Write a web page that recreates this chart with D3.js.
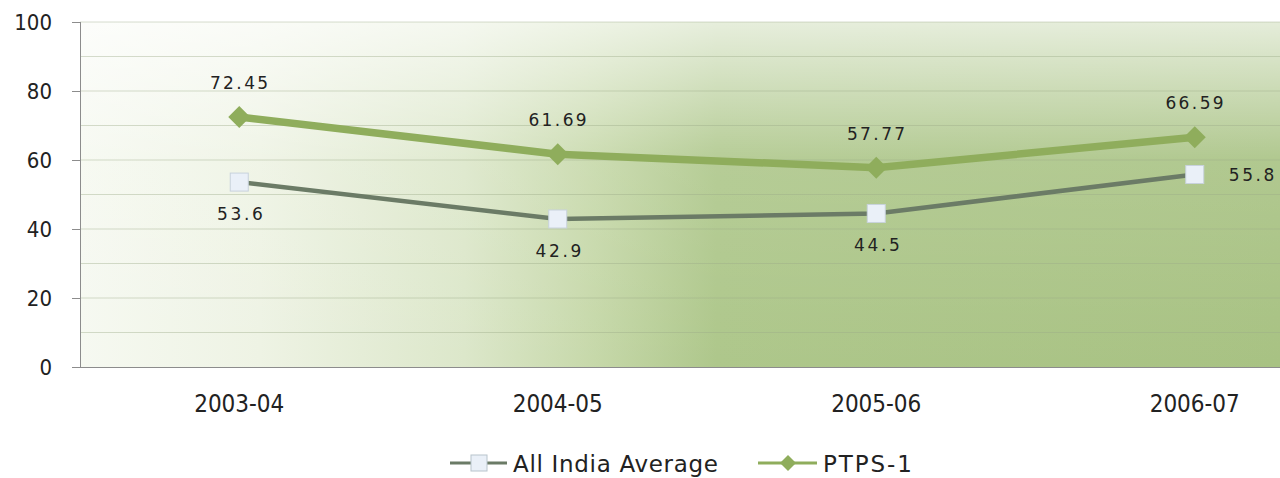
<!DOCTYPE html>
<html><head><meta charset="utf-8">
<script src="https://cdn.jsdelivr.net/npm/d3@7"></script>
<style>body{margin:0;background:#fff}svg{display:block}text{font-family:"DejaVu Sans",Verdana,sans-serif}</style>
</head><body><svg id="c" width="1280" height="478"></svg>
<script>
const categories = ["2003-04","2004-05","2005-06","2006-07"];
const allIndia = [53.6, 42.9, 44.5, 55.8];
const ptps = [72.45, 61.69, 57.77, 66.59];
const yTicks = [0,20,40,60,80,100];
const seriesNames = ["All India Average","PTPS-1"];

const COND = "'DejaVu Sans Condensed','DejaVu Sans',sans-serif";
const svg = d3.select("#c");
const x0 = 80, x1 = 1354, yTop = 22, yBot = 367;
const x = d3.scaleBand().domain(categories).range([x0, x1]);
const cx = d => x(d) + x.bandwidth()/2;
const y = d3.scaleLinear().domain([0,100]).range([yBot, yTop]);

const defs = svg.append("defs");
const gh = defs.append("linearGradient").attr("id","gh").attr("gradientUnits","userSpaceOnUse")
  .attr("x1",x0).attr("x2",1280).attr("y1",0).attr("y2",0);
[[0,"#f6f9f1"],[0.15,"#eef3e4"],[0.32,"#dce7ca"],[0.43,"#c6d8a9"],[0.53,"#aec78b"],[1,"#a8c283"]]
  .forEach(([o,c])=>gh.append("stop").attr("offset",o).attr("stop-color",c));
const gv = defs.append("linearGradient").attr("id","gv").attr("x1",0).attr("x2",0).attr("y1",0).attr("y2",1);
gv.append("stop").attr("offset",0).attr("stop-color","#fff").attr("stop-opacity",0.7);
gv.append("stop").attr("offset",0.4).attr("stop-color","#fff").attr("stop-opacity",0.1);
gv.append("stop").attr("offset",1).attr("stop-color","#fff").attr("stop-opacity",0);

svg.append("rect").attr("x",x0).attr("y",yTop).attr("width",1280-x0).attr("height",yBot-yTop).attr("fill","url(#gh)");
svg.append("rect").attr("x",x0).attr("y",yTop).attr("width",1280-x0).attr("height",yBot-yTop).attr("fill","url(#gv)");

// gridlines every 10
svg.append("g").selectAll("line").data(d3.range(10,101,10)).join("line")
  .attr("x1",x0).attr("x2",1280).attr("y1",d=>y(d)).attr("y2",d=>y(d))
  .attr("stroke","#9aaa86").attr("stroke-opacity",0.4).attr("stroke-width",1);

// y axis
const ya = svg.append("g").attr("transform",`translate(${x0},0)`)
  .call(d3.axisLeft(y).tickValues(yTicks).tickSize(8).tickPadding(20));
ya.select(".domain").attr("stroke","#8c8c8c").attr("d",`M0.5,${yTop}V${yBot}`);
ya.selectAll(".tick line").attr("stroke","#8c8c8c");
ya.selectAll(".tick text").attr("font-size",22).attr("fill","#222").attr("dy","0.36em").style("font-family",COND);

// x axis baseline
svg.append("line").attr("x1",x0).attr("x2",1280).attr("y1",yBot+0.5).attr("y2",yBot+0.5).attr("stroke","#8c8c8c");
svg.append("g").selectAll("text").data(categories).join("text")
  .attr("x",cx).attr("y",412).attr("text-anchor","middle").attr("font-size",24).attr("fill","#222")
  .style("font-family",COND).text(d=>d);

const line = d3.line().x((d,i)=>cx(categories[i])).y(d=>y(d));

svg.append("path").datum(allIndia).attr("d",line).attr("fill","none").attr("stroke","#6b7b66").attr("stroke-width",4.5);
svg.append("path").datum(ptps).attr("d",line).attr("fill","none").attr("stroke","#8fad5c").attr("stroke-width",7.5);

const diamondPath = r => `M0,${-r}L${r},0L0,${r}L${-r},0Z`;
svg.append("g").selectAll("path").data(ptps).join("path")
  .attr("transform",(d,i)=>`translate(${cx(categories[i])},${y(d)})`)
  .attr("d",diamondPath(11)).attr("fill","#8fad5c");
svg.append("g").selectAll("rect").data(allIndia).join("rect")
  .attr("x",(d,i)=>cx(categories[i])-9).attr("y",d=>y(d)-9).attr("width",18).attr("height",18)
  .attr("fill","#eaf0f8").attr("stroke","#c8d2dc").attr("stroke-width",1);

// labels
svg.append("g").selectAll("text").data(ptps).join("text")
  .attr("x",(d,i)=>cx(categories[i])+1).attr("y",d=>y(d)-28).attr("text-anchor","middle")
  .attr("font-size",17).attr("fill","#222").attr("letter-spacing",2.4).text(d=>d);
svg.append("g").selectAll("text").data(allIndia).join("text")
  .attr("x",(d,i)=>i===3?cx(categories[i])+34:cx(categories[i])+2)
  .attr("y",(d,i)=>i===3?y(d)+7:y(d)+38)
  .attr("text-anchor",(d,i)=>i===3?"start":"middle")
  .attr("font-size",17).attr("fill","#222").attr("letter-spacing",2.6).text(d=>String(d));

// legend
const lg = svg.append("g");
lg.append("line").attr("x1",450).attr("x2",507).attr("y1",463).attr("y2",463).attr("stroke","#6b7b66").attr("stroke-width",3);
lg.append("rect").attr("x",471).attr("y",455).attr("width",16).attr("height",16).attr("fill","#eaf0f8").attr("stroke","#b8c4cc");
lg.append("text").attr("x",513).attr("y",472).attr("font-size",23).attr("fill","#222")
  .attr("textLength",205).attr("lengthAdjust","spacing").text(seriesNames[0]);
lg.append("line").attr("x1",758).attr("x2",817).attr("y1",463).attr("y2",463).attr("stroke","#8fad5c").attr("stroke-width",3);
lg.append("path").attr("transform","translate(788,463)").attr("d",diamondPath(8)).attr("fill","#8fad5c");
lg.append("text").attr("x",823).attr("y",472).attr("font-size",23).attr("fill","#222")
  .attr("textLength",89).attr("lengthAdjust","spacing").text(seriesNames[1]);
</script></body></html>
